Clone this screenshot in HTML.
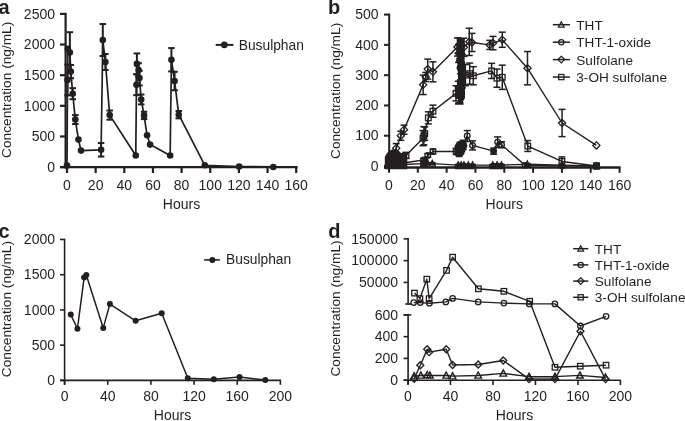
<!DOCTYPE html>
<html><head><meta charset="utf-8"><style>
html,body{margin:0;padding:0;background:#fff;}
svg{display:block;will-change:transform;}
text{font-family:"Liberation Sans", sans-serif;}
</style></head><body>
<svg width="685" height="421" viewBox="0 0 685 421">
<rect width="685" height="421" fill="#fff"/>
<text x="-1.5" y="13.6" text-anchor="start" font-size="20" font-weight="bold" fill="#231f20">a</text>
<line x1="65.6" y1="12.8" x2="65.6" y2="168.4" stroke="#231f20" stroke-width="2.2" stroke-linecap="butt"/>
<line x1="60" y1="167.1" x2="65.6" y2="167.1" stroke="#231f20" stroke-width="2.2" stroke-linecap="butt"/>
<text x="55" y="171.8" text-anchor="end" font-size="14" font-weight="normal" fill="#231f20">0</text>
<line x1="60" y1="136.46" x2="65.6" y2="136.46" stroke="#231f20" stroke-width="2.2" stroke-linecap="butt"/>
<text x="55" y="141.16" text-anchor="end" font-size="14" font-weight="normal" fill="#231f20">500</text>
<line x1="60" y1="105.82" x2="65.6" y2="105.82" stroke="#231f20" stroke-width="2.2" stroke-linecap="butt"/>
<text x="55" y="110.52" text-anchor="end" font-size="14" font-weight="normal" fill="#231f20">1000</text>
<line x1="60" y1="75.18" x2="65.6" y2="75.18" stroke="#231f20" stroke-width="2.2" stroke-linecap="butt"/>
<text x="55" y="79.88" text-anchor="end" font-size="14" font-weight="normal" fill="#231f20">1500</text>
<line x1="60" y1="44.54" x2="65.6" y2="44.54" stroke="#231f20" stroke-width="2.2" stroke-linecap="butt"/>
<text x="55" y="49.24" text-anchor="end" font-size="14" font-weight="normal" fill="#231f20">2000</text>
<line x1="60" y1="13.9" x2="65.6" y2="13.9" stroke="#231f20" stroke-width="2.2" stroke-linecap="butt"/>
<text x="55" y="18.6" text-anchor="end" font-size="14" font-weight="normal" fill="#231f20">2500</text>
<line x1="60" y1="167.1" x2="297.6" y2="167.1" stroke="#231f20" stroke-width="2.2" stroke-linecap="butt"/>
<line x1="67" y1="167.1" x2="67" y2="173" stroke="#231f20" stroke-width="2.2" stroke-linecap="butt"/>
<text x="67" y="189.6" text-anchor="middle" font-size="14" font-weight="normal" fill="#231f20">0</text>
<line x1="95.65" y1="167.1" x2="95.65" y2="173" stroke="#231f20" stroke-width="2.2" stroke-linecap="butt"/>
<text x="95.65" y="189.6" text-anchor="middle" font-size="14" font-weight="normal" fill="#231f20">20</text>
<line x1="124.3" y1="167.1" x2="124.3" y2="173" stroke="#231f20" stroke-width="2.2" stroke-linecap="butt"/>
<text x="124.3" y="189.6" text-anchor="middle" font-size="14" font-weight="normal" fill="#231f20">40</text>
<line x1="152.95" y1="167.1" x2="152.95" y2="173" stroke="#231f20" stroke-width="2.2" stroke-linecap="butt"/>
<text x="152.95" y="189.6" text-anchor="middle" font-size="14" font-weight="normal" fill="#231f20">60</text>
<line x1="181.6" y1="167.1" x2="181.6" y2="173" stroke="#231f20" stroke-width="2.2" stroke-linecap="butt"/>
<text x="181.6" y="189.6" text-anchor="middle" font-size="14" font-weight="normal" fill="#231f20">80</text>
<line x1="210.25" y1="167.1" x2="210.25" y2="173" stroke="#231f20" stroke-width="2.2" stroke-linecap="butt"/>
<text x="210.25" y="189.6" text-anchor="middle" font-size="14" font-weight="normal" fill="#231f20">100</text>
<line x1="238.9" y1="167.1" x2="238.9" y2="173" stroke="#231f20" stroke-width="2.2" stroke-linecap="butt"/>
<text x="238.9" y="189.6" text-anchor="middle" font-size="14" font-weight="normal" fill="#231f20">120</text>
<line x1="267.55" y1="167.1" x2="267.55" y2="173" stroke="#231f20" stroke-width="2.2" stroke-linecap="butt"/>
<text x="267.55" y="189.6" text-anchor="middle" font-size="14" font-weight="normal" fill="#231f20">140</text>
<line x1="296.2" y1="167.1" x2="296.2" y2="173" stroke="#231f20" stroke-width="2.2" stroke-linecap="butt"/>
<text x="296.2" y="189.6" text-anchor="middle" font-size="14" font-weight="normal" fill="#231f20">160</text>
<text x="181.5" y="209" text-anchor="middle" font-size="14" font-weight="normal" fill="#231f20">Hours</text>
<text x="11.4" y="89.8" text-anchor="middle" font-size="13.7" font-weight="normal" fill="#231f20" transform="rotate(-90 11.4 89.8)">Concentration (ng/mL)</text>
<line x1="67.5" y1="64.58" x2="67.5" y2="95.28" stroke="#231f20" stroke-width="2" stroke-linecap="butt"/>
<line x1="64.25" y1="64.58" x2="70.75" y2="64.58" stroke="#231f20" stroke-width="2" stroke-linecap="butt"/>
<line x1="64.25" y1="95.28" x2="70.75" y2="95.28" stroke="#231f20" stroke-width="2" stroke-linecap="butt"/>
<line x1="69.86" y1="32.22" x2="69.86" y2="72.74" stroke="#231f20" stroke-width="2" stroke-linecap="butt"/>
<line x1="66.61" y1="32.22" x2="73.11" y2="32.22" stroke="#231f20" stroke-width="2" stroke-linecap="butt"/>
<line x1="66.61" y1="72.74" x2="73.11" y2="72.74" stroke="#231f20" stroke-width="2" stroke-linecap="butt"/>
<line x1="70.8" y1="64.95" x2="70.8" y2="78.21" stroke="#231f20" stroke-width="2" stroke-linecap="butt"/>
<line x1="67.55" y1="64.95" x2="74.05" y2="64.95" stroke="#231f20" stroke-width="2" stroke-linecap="butt"/>
<line x1="67.55" y1="78.21" x2="74.05" y2="78.21" stroke="#231f20" stroke-width="2" stroke-linecap="butt"/>
<line x1="72.73" y1="88.16" x2="72.73" y2="99.21" stroke="#231f20" stroke-width="2" stroke-linecap="butt"/>
<line x1="69.48" y1="88.16" x2="75.98" y2="88.16" stroke="#231f20" stroke-width="2" stroke-linecap="butt"/>
<line x1="69.48" y1="99.21" x2="75.98" y2="99.21" stroke="#231f20" stroke-width="2" stroke-linecap="butt"/>
<line x1="75.31" y1="115.05" x2="75.31" y2="124.01" stroke="#231f20" stroke-width="2" stroke-linecap="butt"/>
<line x1="72.06" y1="115.05" x2="78.56" y2="115.05" stroke="#231f20" stroke-width="2" stroke-linecap="butt"/>
<line x1="72.06" y1="124.01" x2="78.56" y2="124.01" stroke="#231f20" stroke-width="2" stroke-linecap="butt"/>
<line x1="101.09" y1="143.05" x2="101.09" y2="156.56" stroke="#231f20" stroke-width="2" stroke-linecap="butt"/>
<line x1="97.84" y1="143.05" x2="104.34" y2="143.05" stroke="#231f20" stroke-width="2" stroke-linecap="butt"/>
<line x1="97.84" y1="156.56" x2="104.34" y2="156.56" stroke="#231f20" stroke-width="2" stroke-linecap="butt"/>
<line x1="102.81" y1="24.05" x2="102.81" y2="55.98" stroke="#231f20" stroke-width="2" stroke-linecap="butt"/>
<line x1="99.56" y1="24.05" x2="106.06" y2="24.05" stroke="#231f20" stroke-width="2" stroke-linecap="butt"/>
<line x1="99.56" y1="55.98" x2="106.06" y2="55.98" stroke="#231f20" stroke-width="2" stroke-linecap="butt"/>
<line x1="105.39" y1="53.96" x2="105.39" y2="69.92" stroke="#231f20" stroke-width="2" stroke-linecap="butt"/>
<line x1="102.14" y1="53.96" x2="108.64" y2="53.96" stroke="#231f20" stroke-width="2" stroke-linecap="butt"/>
<line x1="102.14" y1="69.92" x2="108.64" y2="69.92" stroke="#231f20" stroke-width="2" stroke-linecap="butt"/>
<line x1="109.69" y1="110.51" x2="109.69" y2="119.72" stroke="#231f20" stroke-width="2" stroke-linecap="butt"/>
<line x1="106.44" y1="110.51" x2="112.94" y2="110.51" stroke="#231f20" stroke-width="2" stroke-linecap="butt"/>
<line x1="106.44" y1="119.72" x2="112.94" y2="119.72" stroke="#231f20" stroke-width="2" stroke-linecap="butt"/>
<line x1="136.48" y1="74.28" x2="136.48" y2="95.16" stroke="#231f20" stroke-width="2" stroke-linecap="butt"/>
<line x1="133.23" y1="74.28" x2="139.73" y2="74.28" stroke="#231f20" stroke-width="2" stroke-linecap="butt"/>
<line x1="133.23" y1="95.16" x2="139.73" y2="95.16" stroke="#231f20" stroke-width="2" stroke-linecap="butt"/>
<line x1="136.91" y1="53.46" x2="136.91" y2="74.34" stroke="#231f20" stroke-width="2" stroke-linecap="butt"/>
<line x1="133.66" y1="53.46" x2="140.16" y2="53.46" stroke="#231f20" stroke-width="2" stroke-linecap="butt"/>
<line x1="133.66" y1="74.34" x2="140.16" y2="74.34" stroke="#231f20" stroke-width="2" stroke-linecap="butt"/>
<line x1="138.62" y1="63.23" x2="138.62" y2="76.74" stroke="#231f20" stroke-width="2" stroke-linecap="butt"/>
<line x1="135.38" y1="63.23" x2="141.88" y2="63.23" stroke="#231f20" stroke-width="2" stroke-linecap="butt"/>
<line x1="135.38" y1="76.74" x2="141.88" y2="76.74" stroke="#231f20" stroke-width="2" stroke-linecap="butt"/>
<line x1="139.48" y1="70.72" x2="139.48" y2="85.45" stroke="#231f20" stroke-width="2" stroke-linecap="butt"/>
<line x1="136.23" y1="70.72" x2="142.73" y2="70.72" stroke="#231f20" stroke-width="2" stroke-linecap="butt"/>
<line x1="136.23" y1="85.45" x2="142.73" y2="85.45" stroke="#231f20" stroke-width="2" stroke-linecap="butt"/>
<line x1="141.2" y1="94.54" x2="141.2" y2="104.37" stroke="#231f20" stroke-width="2" stroke-linecap="butt"/>
<line x1="137.95" y1="94.54" x2="144.45" y2="94.54" stroke="#231f20" stroke-width="2" stroke-linecap="butt"/>
<line x1="137.95" y1="104.37" x2="144.45" y2="104.37" stroke="#231f20" stroke-width="2" stroke-linecap="butt"/>
<line x1="144.07" y1="111.73" x2="144.07" y2="119.1" stroke="#231f20" stroke-width="2" stroke-linecap="butt"/>
<line x1="140.82" y1="111.73" x2="147.32" y2="111.73" stroke="#231f20" stroke-width="2" stroke-linecap="butt"/>
<line x1="140.82" y1="119.1" x2="147.32" y2="119.1" stroke="#231f20" stroke-width="2" stroke-linecap="butt"/>
<line x1="171.43" y1="48.06" x2="171.43" y2="71.39" stroke="#231f20" stroke-width="2" stroke-linecap="butt"/>
<line x1="168.18" y1="48.06" x2="174.68" y2="48.06" stroke="#231f20" stroke-width="2" stroke-linecap="butt"/>
<line x1="168.18" y1="71.39" x2="174.68" y2="71.39" stroke="#231f20" stroke-width="2" stroke-linecap="butt"/>
<line x1="174.58" y1="71.82" x2="174.58" y2="90.24" stroke="#231f20" stroke-width="2" stroke-linecap="butt"/>
<line x1="171.33" y1="71.82" x2="177.83" y2="71.82" stroke="#231f20" stroke-width="2" stroke-linecap="butt"/>
<line x1="171.33" y1="90.24" x2="177.83" y2="90.24" stroke="#231f20" stroke-width="2" stroke-linecap="butt"/>
<line x1="178.74" y1="111" x2="178.74" y2="118.36" stroke="#231f20" stroke-width="2" stroke-linecap="butt"/>
<line x1="175.49" y1="111" x2="181.99" y2="111" stroke="#231f20" stroke-width="2" stroke-linecap="butt"/>
<line x1="175.49" y1="118.36" x2="181.99" y2="118.36" stroke="#231f20" stroke-width="2" stroke-linecap="butt"/>
<polyline points="67,165.46 67.5,79.93 67.86,48.8 69.86,52.48 70.8,71.58 72.73,93.68 75.31,119.53 78.46,139.61 81.04,150.6 101.09,149.8 102.81,40.02 105.39,61.94 109.69,115.11 135.76,155.51 136.48,84.72 136.91,63.9 138.62,69.98 139.48,78.09 141.2,99.45 144.07,115.42 147.08,135.31 150.09,144.58 170.14,155.51 171.43,59.73 174.58,81.03 178.74,114.68 204.81,165.27 239.19,166.5 273.28,166.93" fill="none" stroke="#231f20" stroke-width="1.7" stroke-linejoin="round"/>
<circle cx="67" cy="165.46" r="3.3" fill="#231f20"/>
<circle cx="67.5" cy="79.93" r="3.3" fill="#231f20"/>
<circle cx="67.86" cy="48.8" r="3.3" fill="#231f20"/>
<circle cx="69.86" cy="52.48" r="3.3" fill="#231f20"/>
<circle cx="70.8" cy="71.58" r="3.3" fill="#231f20"/>
<circle cx="72.73" cy="93.68" r="3.3" fill="#231f20"/>
<circle cx="75.31" cy="119.53" r="3.3" fill="#231f20"/>
<circle cx="78.46" cy="139.61" r="3.3" fill="#231f20"/>
<circle cx="81.04" cy="150.6" r="3.3" fill="#231f20"/>
<circle cx="101.09" cy="149.8" r="3.3" fill="#231f20"/>
<circle cx="102.81" cy="40.02" r="3.3" fill="#231f20"/>
<circle cx="105.39" cy="61.94" r="3.3" fill="#231f20"/>
<circle cx="109.69" cy="115.11" r="3.3" fill="#231f20"/>
<circle cx="135.76" cy="155.51" r="3.3" fill="#231f20"/>
<circle cx="136.48" cy="84.72" r="3.3" fill="#231f20"/>
<circle cx="136.91" cy="63.9" r="3.3" fill="#231f20"/>
<circle cx="138.62" cy="69.98" r="3.3" fill="#231f20"/>
<circle cx="139.48" cy="78.09" r="3.3" fill="#231f20"/>
<circle cx="141.2" cy="99.45" r="3.3" fill="#231f20"/>
<circle cx="144.07" cy="115.42" r="3.3" fill="#231f20"/>
<circle cx="147.08" cy="135.31" r="3.3" fill="#231f20"/>
<circle cx="150.09" cy="144.58" r="3.3" fill="#231f20"/>
<circle cx="170.14" cy="155.51" r="3.3" fill="#231f20"/>
<circle cx="171.43" cy="59.73" r="3.3" fill="#231f20"/>
<circle cx="174.58" cy="81.03" r="3.3" fill="#231f20"/>
<circle cx="178.74" cy="114.68" r="3.3" fill="#231f20"/>
<circle cx="204.81" cy="165.27" r="3.3" fill="#231f20"/>
<circle cx="239.19" cy="166.5" r="3.3" fill="#231f20"/>
<circle cx="273.28" cy="166.93" r="3.3" fill="#231f20"/>
<line x1="215.7" y1="44.9" x2="233.4" y2="44.9" stroke="#231f20" stroke-width="2" stroke-linecap="butt"/>
<circle cx="224.3" cy="44.9" r="3.3" fill="#231f20"/>
<text x="238.7" y="49.9" text-anchor="start" font-size="13.8" font-weight="normal" fill="#231f20">Busulphan</text>
<text x="328" y="13.6" text-anchor="start" font-size="20" font-weight="bold" fill="#231f20">b</text>
<line x1="389.2" y1="13.6" x2="389.2" y2="168.7" stroke="#231f20" stroke-width="2" stroke-linecap="butt"/>
<line x1="384" y1="166" x2="389.2" y2="166" stroke="#231f20" stroke-width="2" stroke-linecap="butt"/>
<text x="378.5" y="170.7" text-anchor="end" font-size="14" font-weight="normal" fill="#231f20">0</text>
<line x1="384" y1="135.72" x2="389.2" y2="135.72" stroke="#231f20" stroke-width="2" stroke-linecap="butt"/>
<text x="378.5" y="140.42" text-anchor="end" font-size="14" font-weight="normal" fill="#231f20">100</text>
<line x1="384" y1="105.44" x2="389.2" y2="105.44" stroke="#231f20" stroke-width="2" stroke-linecap="butt"/>
<text x="378.5" y="110.14" text-anchor="end" font-size="14" font-weight="normal" fill="#231f20">200</text>
<line x1="384" y1="75.16" x2="389.2" y2="75.16" stroke="#231f20" stroke-width="2" stroke-linecap="butt"/>
<text x="378.5" y="79.86" text-anchor="end" font-size="14" font-weight="normal" fill="#231f20">300</text>
<line x1="384" y1="44.88" x2="389.2" y2="44.88" stroke="#231f20" stroke-width="2" stroke-linecap="butt"/>
<text x="378.5" y="49.58" text-anchor="end" font-size="14" font-weight="normal" fill="#231f20">400</text>
<line x1="384" y1="14.6" x2="389.2" y2="14.6" stroke="#231f20" stroke-width="2" stroke-linecap="butt"/>
<text x="378.5" y="19.3" text-anchor="end" font-size="14" font-weight="normal" fill="#231f20">500</text>
<line x1="384" y1="167.5" x2="620.6" y2="167.5" stroke="#231f20" stroke-width="2.4" stroke-linecap="butt"/>
<line x1="389" y1="167.5" x2="389" y2="172.8" stroke="#231f20" stroke-width="2" stroke-linecap="butt"/>
<text x="389" y="189.6" text-anchor="middle" font-size="14" font-weight="normal" fill="#231f20">0</text>
<line x1="417.82" y1="167.5" x2="417.82" y2="172.8" stroke="#231f20" stroke-width="2" stroke-linecap="butt"/>
<text x="417.82" y="189.6" text-anchor="middle" font-size="14" font-weight="normal" fill="#231f20">20</text>
<line x1="446.64" y1="167.5" x2="446.64" y2="172.8" stroke="#231f20" stroke-width="2" stroke-linecap="butt"/>
<text x="446.64" y="189.6" text-anchor="middle" font-size="14" font-weight="normal" fill="#231f20">40</text>
<line x1="475.46" y1="167.5" x2="475.46" y2="172.8" stroke="#231f20" stroke-width="2" stroke-linecap="butt"/>
<text x="475.46" y="189.6" text-anchor="middle" font-size="14" font-weight="normal" fill="#231f20">60</text>
<line x1="504.28" y1="167.5" x2="504.28" y2="172.8" stroke="#231f20" stroke-width="2" stroke-linecap="butt"/>
<text x="504.28" y="189.6" text-anchor="middle" font-size="14" font-weight="normal" fill="#231f20">80</text>
<line x1="533.1" y1="167.5" x2="533.1" y2="172.8" stroke="#231f20" stroke-width="2" stroke-linecap="butt"/>
<text x="533.1" y="189.6" text-anchor="middle" font-size="14" font-weight="normal" fill="#231f20">100</text>
<line x1="561.92" y1="167.5" x2="561.92" y2="172.8" stroke="#231f20" stroke-width="2" stroke-linecap="butt"/>
<text x="561.92" y="189.6" text-anchor="middle" font-size="14" font-weight="normal" fill="#231f20">120</text>
<line x1="590.74" y1="167.5" x2="590.74" y2="172.8" stroke="#231f20" stroke-width="2" stroke-linecap="butt"/>
<text x="590.74" y="189.6" text-anchor="middle" font-size="14" font-weight="normal" fill="#231f20">140</text>
<line x1="619.56" y1="167.5" x2="619.56" y2="172.8" stroke="#231f20" stroke-width="2" stroke-linecap="butt"/>
<text x="619.56" y="189.6" text-anchor="middle" font-size="14" font-weight="normal" fill="#231f20">160</text>
<text x="504.3" y="209" text-anchor="middle" font-size="14" font-weight="normal" fill="#231f20">Hours</text>
<text x="340" y="90.9" text-anchor="middle" font-size="13.7" font-weight="normal" fill="#231f20" transform="rotate(-90 340 90.9)">Concentration (ng/mL)</text>
<line x1="391.88" y1="163.58" x2="391.88" y2="165.39" stroke="#231f20" stroke-width="1.5" stroke-linecap="butt"/>
<line x1="388.38" y1="163.58" x2="395.38" y2="163.58" stroke="#231f20" stroke-width="1.5" stroke-linecap="butt"/>
<line x1="388.38" y1="165.39" x2="395.38" y2="165.39" stroke="#231f20" stroke-width="1.5" stroke-linecap="butt"/>
<line x1="396.2" y1="162.67" x2="396.2" y2="164.49" stroke="#231f20" stroke-width="1.5" stroke-linecap="butt"/>
<line x1="392.7" y1="162.67" x2="399.7" y2="162.67" stroke="#231f20" stroke-width="1.5" stroke-linecap="butt"/>
<line x1="392.7" y1="164.49" x2="399.7" y2="164.49" stroke="#231f20" stroke-width="1.5" stroke-linecap="butt"/>
<line x1="400.53" y1="163.27" x2="400.53" y2="165.09" stroke="#231f20" stroke-width="1.5" stroke-linecap="butt"/>
<line x1="397.03" y1="163.27" x2="404.03" y2="163.27" stroke="#231f20" stroke-width="1.5" stroke-linecap="butt"/>
<line x1="397.03" y1="165.09" x2="404.03" y2="165.09" stroke="#231f20" stroke-width="1.5" stroke-linecap="butt"/>
<line x1="403.41" y1="163.58" x2="403.41" y2="165.39" stroke="#231f20" stroke-width="1.5" stroke-linecap="butt"/>
<line x1="399.91" y1="163.58" x2="406.91" y2="163.58" stroke="#231f20" stroke-width="1.5" stroke-linecap="butt"/>
<line x1="399.91" y1="165.39" x2="406.91" y2="165.39" stroke="#231f20" stroke-width="1.5" stroke-linecap="butt"/>
<line x1="423.58" y1="162.67" x2="423.58" y2="164.49" stroke="#231f20" stroke-width="1.5" stroke-linecap="butt"/>
<line x1="420.08" y1="162.67" x2="427.08" y2="162.67" stroke="#231f20" stroke-width="1.5" stroke-linecap="butt"/>
<line x1="420.08" y1="164.49" x2="427.08" y2="164.49" stroke="#231f20" stroke-width="1.5" stroke-linecap="butt"/>
<line x1="432.23" y1="162.67" x2="432.23" y2="164.49" stroke="#231f20" stroke-width="1.5" stroke-linecap="butt"/>
<line x1="428.73" y1="162.67" x2="435.73" y2="162.67" stroke="#231f20" stroke-width="1.5" stroke-linecap="butt"/>
<line x1="428.73" y1="164.49" x2="435.73" y2="164.49" stroke="#231f20" stroke-width="1.5" stroke-linecap="butt"/>
<line x1="458.17" y1="164.49" x2="458.17" y2="165.7" stroke="#231f20" stroke-width="1.5" stroke-linecap="butt"/>
<line x1="454.67" y1="164.49" x2="461.67" y2="164.49" stroke="#231f20" stroke-width="1.5" stroke-linecap="butt"/>
<line x1="454.67" y1="165.7" x2="461.67" y2="165.7" stroke="#231f20" stroke-width="1.5" stroke-linecap="butt"/>
<line x1="461.05" y1="164.49" x2="461.05" y2="165.7" stroke="#231f20" stroke-width="1.5" stroke-linecap="butt"/>
<line x1="457.55" y1="164.49" x2="464.55" y2="164.49" stroke="#231f20" stroke-width="1.5" stroke-linecap="butt"/>
<line x1="457.55" y1="165.7" x2="464.55" y2="165.7" stroke="#231f20" stroke-width="1.5" stroke-linecap="butt"/>
<line x1="463.93" y1="164.49" x2="463.93" y2="165.7" stroke="#231f20" stroke-width="1.5" stroke-linecap="butt"/>
<line x1="460.43" y1="164.49" x2="467.43" y2="164.49" stroke="#231f20" stroke-width="1.5" stroke-linecap="butt"/>
<line x1="460.43" y1="165.7" x2="467.43" y2="165.7" stroke="#231f20" stroke-width="1.5" stroke-linecap="butt"/>
<line x1="468.25" y1="164.49" x2="468.25" y2="165.7" stroke="#231f20" stroke-width="1.5" stroke-linecap="butt"/>
<line x1="464.75" y1="164.49" x2="471.75" y2="164.49" stroke="#231f20" stroke-width="1.5" stroke-linecap="butt"/>
<line x1="464.75" y1="165.7" x2="471.75" y2="165.7" stroke="#231f20" stroke-width="1.5" stroke-linecap="butt"/>
<line x1="472.58" y1="164.49" x2="472.58" y2="165.7" stroke="#231f20" stroke-width="1.5" stroke-linecap="butt"/>
<line x1="469.08" y1="164.49" x2="476.08" y2="164.49" stroke="#231f20" stroke-width="1.5" stroke-linecap="butt"/>
<line x1="469.08" y1="165.7" x2="476.08" y2="165.7" stroke="#231f20" stroke-width="1.5" stroke-linecap="butt"/>
<line x1="492.75" y1="164.49" x2="492.75" y2="165.7" stroke="#231f20" stroke-width="1.5" stroke-linecap="butt"/>
<line x1="489.25" y1="164.49" x2="496.25" y2="164.49" stroke="#231f20" stroke-width="1.5" stroke-linecap="butt"/>
<line x1="489.25" y1="165.7" x2="496.25" y2="165.7" stroke="#231f20" stroke-width="1.5" stroke-linecap="butt"/>
<line x1="497.07" y1="164.49" x2="497.07" y2="165.7" stroke="#231f20" stroke-width="1.5" stroke-linecap="butt"/>
<line x1="493.57" y1="164.49" x2="500.57" y2="164.49" stroke="#231f20" stroke-width="1.5" stroke-linecap="butt"/>
<line x1="493.57" y1="165.7" x2="500.57" y2="165.7" stroke="#231f20" stroke-width="1.5" stroke-linecap="butt"/>
<line x1="501.4" y1="164.49" x2="501.4" y2="165.7" stroke="#231f20" stroke-width="1.5" stroke-linecap="butt"/>
<line x1="497.9" y1="164.49" x2="504.9" y2="164.49" stroke="#231f20" stroke-width="1.5" stroke-linecap="butt"/>
<line x1="497.9" y1="165.7" x2="504.9" y2="165.7" stroke="#231f20" stroke-width="1.5" stroke-linecap="butt"/>
<line x1="527.34" y1="163.58" x2="527.34" y2="164.79" stroke="#231f20" stroke-width="1.5" stroke-linecap="butt"/>
<line x1="523.84" y1="163.58" x2="530.84" y2="163.58" stroke="#231f20" stroke-width="1.5" stroke-linecap="butt"/>
<line x1="523.84" y1="164.79" x2="530.84" y2="164.79" stroke="#231f20" stroke-width="1.5" stroke-linecap="butt"/>
<polyline points="389,165.39 391.88,164.49 396.2,163.58 400.53,164.18 403.41,164.49 423.58,163.58 432.23,163.58 458.17,165.09 461.05,165.09 463.93,165.09 468.25,165.09 472.58,165.09 492.75,165.09 497.07,165.09 501.4,165.09 527.34,164.18 561.92,165.09 596.5,166" fill="none" stroke="#231f20" stroke-width="1.4" stroke-linejoin="round"/>
<line x1="391.88" y1="162.06" x2="391.88" y2="165.09" stroke="#231f20" stroke-width="1.5" stroke-linecap="butt"/>
<line x1="388.38" y1="162.06" x2="395.38" y2="162.06" stroke="#231f20" stroke-width="1.5" stroke-linecap="butt"/>
<line x1="388.38" y1="165.09" x2="395.38" y2="165.09" stroke="#231f20" stroke-width="1.5" stroke-linecap="butt"/>
<line x1="396.2" y1="161.46" x2="396.2" y2="164.49" stroke="#231f20" stroke-width="1.5" stroke-linecap="butt"/>
<line x1="392.7" y1="161.46" x2="399.7" y2="161.46" stroke="#231f20" stroke-width="1.5" stroke-linecap="butt"/>
<line x1="392.7" y1="164.49" x2="399.7" y2="164.49" stroke="#231f20" stroke-width="1.5" stroke-linecap="butt"/>
<line x1="400.53" y1="160.85" x2="400.53" y2="163.88" stroke="#231f20" stroke-width="1.5" stroke-linecap="butt"/>
<line x1="397.03" y1="160.85" x2="404.03" y2="160.85" stroke="#231f20" stroke-width="1.5" stroke-linecap="butt"/>
<line x1="397.03" y1="163.88" x2="404.03" y2="163.88" stroke="#231f20" stroke-width="1.5" stroke-linecap="butt"/>
<line x1="403.41" y1="161.46" x2="403.41" y2="164.49" stroke="#231f20" stroke-width="1.5" stroke-linecap="butt"/>
<line x1="399.91" y1="161.46" x2="406.91" y2="161.46" stroke="#231f20" stroke-width="1.5" stroke-linecap="butt"/>
<line x1="399.91" y1="164.49" x2="406.91" y2="164.49" stroke="#231f20" stroke-width="1.5" stroke-linecap="butt"/>
<line x1="423.58" y1="158.43" x2="423.58" y2="161.46" stroke="#231f20" stroke-width="1.5" stroke-linecap="butt"/>
<line x1="420.08" y1="158.43" x2="427.08" y2="158.43" stroke="#231f20" stroke-width="1.5" stroke-linecap="butt"/>
<line x1="420.08" y1="161.46" x2="427.08" y2="161.46" stroke="#231f20" stroke-width="1.5" stroke-linecap="butt"/>
<line x1="427.76" y1="153.59" x2="427.76" y2="157.22" stroke="#231f20" stroke-width="1.5" stroke-linecap="butt"/>
<line x1="424.26" y1="153.59" x2="431.26" y2="153.59" stroke="#231f20" stroke-width="1.5" stroke-linecap="butt"/>
<line x1="424.26" y1="157.22" x2="431.26" y2="157.22" stroke="#231f20" stroke-width="1.5" stroke-linecap="butt"/>
<line x1="432.95" y1="149.04" x2="432.95" y2="153.89" stroke="#231f20" stroke-width="1.5" stroke-linecap="butt"/>
<line x1="429.45" y1="149.04" x2="436.45" y2="149.04" stroke="#231f20" stroke-width="1.5" stroke-linecap="butt"/>
<line x1="429.45" y1="153.89" x2="436.45" y2="153.89" stroke="#231f20" stroke-width="1.5" stroke-linecap="butt"/>
<line x1="456.01" y1="148.44" x2="456.01" y2="154.49" stroke="#231f20" stroke-width="1.5" stroke-linecap="butt"/>
<line x1="452.51" y1="148.44" x2="459.51" y2="148.44" stroke="#231f20" stroke-width="1.5" stroke-linecap="butt"/>
<line x1="452.51" y1="154.49" x2="459.51" y2="154.49" stroke="#231f20" stroke-width="1.5" stroke-linecap="butt"/>
<line x1="458.89" y1="149.35" x2="458.89" y2="155.4" stroke="#231f20" stroke-width="1.5" stroke-linecap="butt"/>
<line x1="455.39" y1="149.35" x2="462.39" y2="149.35" stroke="#231f20" stroke-width="1.5" stroke-linecap="butt"/>
<line x1="455.39" y1="155.4" x2="462.39" y2="155.4" stroke="#231f20" stroke-width="1.5" stroke-linecap="butt"/>
<line x1="460.76" y1="144.8" x2="460.76" y2="153.89" stroke="#231f20" stroke-width="1.5" stroke-linecap="butt"/>
<line x1="457.26" y1="144.8" x2="464.26" y2="144.8" stroke="#231f20" stroke-width="1.5" stroke-linecap="butt"/>
<line x1="457.26" y1="153.89" x2="464.26" y2="153.89" stroke="#231f20" stroke-width="1.5" stroke-linecap="butt"/>
<line x1="463.21" y1="140.26" x2="463.21" y2="149.35" stroke="#231f20" stroke-width="1.5" stroke-linecap="butt"/>
<line x1="459.71" y1="140.26" x2="466.71" y2="140.26" stroke="#231f20" stroke-width="1.5" stroke-linecap="butt"/>
<line x1="459.71" y1="149.35" x2="466.71" y2="149.35" stroke="#231f20" stroke-width="1.5" stroke-linecap="butt"/>
<line x1="467.25" y1="130.57" x2="467.25" y2="141.47" stroke="#231f20" stroke-width="1.5" stroke-linecap="butt"/>
<line x1="463.75" y1="130.57" x2="470.75" y2="130.57" stroke="#231f20" stroke-width="1.5" stroke-linecap="butt"/>
<line x1="463.75" y1="141.47" x2="470.75" y2="141.47" stroke="#231f20" stroke-width="1.5" stroke-linecap="butt"/>
<line x1="472.58" y1="140.87" x2="472.58" y2="149.95" stroke="#231f20" stroke-width="1.5" stroke-linecap="butt"/>
<line x1="469.08" y1="140.87" x2="476.08" y2="140.87" stroke="#231f20" stroke-width="1.5" stroke-linecap="butt"/>
<line x1="469.08" y1="149.95" x2="476.08" y2="149.95" stroke="#231f20" stroke-width="1.5" stroke-linecap="butt"/>
<line x1="493.62" y1="148.13" x2="493.62" y2="154.19" stroke="#231f20" stroke-width="1.5" stroke-linecap="butt"/>
<line x1="490.12" y1="148.13" x2="497.12" y2="148.13" stroke="#231f20" stroke-width="1.5" stroke-linecap="butt"/>
<line x1="490.12" y1="154.19" x2="497.12" y2="154.19" stroke="#231f20" stroke-width="1.5" stroke-linecap="butt"/>
<line x1="497.65" y1="136.93" x2="497.65" y2="147.23" stroke="#231f20" stroke-width="1.5" stroke-linecap="butt"/>
<line x1="494.15" y1="136.93" x2="501.15" y2="136.93" stroke="#231f20" stroke-width="1.5" stroke-linecap="butt"/>
<line x1="494.15" y1="147.23" x2="501.15" y2="147.23" stroke="#231f20" stroke-width="1.5" stroke-linecap="butt"/>
<line x1="501.54" y1="141.78" x2="501.54" y2="147.83" stroke="#231f20" stroke-width="1.5" stroke-linecap="butt"/>
<line x1="498.04" y1="141.78" x2="505.04" y2="141.78" stroke="#231f20" stroke-width="1.5" stroke-linecap="butt"/>
<line x1="498.04" y1="147.83" x2="505.04" y2="147.83" stroke="#231f20" stroke-width="1.5" stroke-linecap="butt"/>
<polyline points="389,165.39 391.88,163.58 396.2,162.97 400.53,162.37 403.41,162.97 423.58,159.94 427.76,155.4 432.95,151.47 456.01,151.47 458.89,152.37 460.76,149.35 463.21,144.8 467.25,136.02 472.58,145.41 493.62,151.16 497.65,142.08 501.54,144.8 525.17,165.39 561.92,165.7 596.5,166" fill="none" stroke="#231f20" stroke-width="1.4" stroke-linejoin="round"/>
<line x1="391.88" y1="162.06" x2="391.88" y2="165.09" stroke="#231f20" stroke-width="1.5" stroke-linecap="butt"/>
<line x1="388.38" y1="162.06" x2="395.38" y2="162.06" stroke="#231f20" stroke-width="1.5" stroke-linecap="butt"/>
<line x1="388.38" y1="165.09" x2="395.38" y2="165.09" stroke="#231f20" stroke-width="1.5" stroke-linecap="butt"/>
<line x1="396.2" y1="158.13" x2="396.2" y2="162.97" stroke="#231f20" stroke-width="1.5" stroke-linecap="butt"/>
<line x1="392.7" y1="158.13" x2="399.7" y2="158.13" stroke="#231f20" stroke-width="1.5" stroke-linecap="butt"/>
<line x1="392.7" y1="162.97" x2="399.7" y2="162.97" stroke="#231f20" stroke-width="1.5" stroke-linecap="butt"/>
<line x1="400.53" y1="154.49" x2="400.53" y2="160.55" stroke="#231f20" stroke-width="1.5" stroke-linecap="butt"/>
<line x1="397.03" y1="154.49" x2="404.03" y2="154.49" stroke="#231f20" stroke-width="1.5" stroke-linecap="butt"/>
<line x1="397.03" y1="160.55" x2="404.03" y2="160.55" stroke="#231f20" stroke-width="1.5" stroke-linecap="butt"/>
<line x1="403.41" y1="153.89" x2="403.41" y2="159.94" stroke="#231f20" stroke-width="1.5" stroke-linecap="butt"/>
<line x1="399.91" y1="153.89" x2="406.91" y2="153.89" stroke="#231f20" stroke-width="1.5" stroke-linecap="butt"/>
<line x1="399.91" y1="159.94" x2="406.91" y2="159.94" stroke="#231f20" stroke-width="1.5" stroke-linecap="butt"/>
<line x1="406" y1="152.37" x2="406" y2="158.43" stroke="#231f20" stroke-width="1.5" stroke-linecap="butt"/>
<line x1="402.5" y1="152.37" x2="409.5" y2="152.37" stroke="#231f20" stroke-width="1.5" stroke-linecap="butt"/>
<line x1="402.5" y1="158.43" x2="409.5" y2="158.43" stroke="#231f20" stroke-width="1.5" stroke-linecap="butt"/>
<line x1="423.01" y1="130.57" x2="423.01" y2="145.71" stroke="#231f20" stroke-width="1.5" stroke-linecap="butt"/>
<line x1="419.51" y1="130.57" x2="426.51" y2="130.57" stroke="#231f20" stroke-width="1.5" stroke-linecap="butt"/>
<line x1="419.51" y1="145.71" x2="426.51" y2="145.71" stroke="#231f20" stroke-width="1.5" stroke-linecap="butt"/>
<line x1="423.87" y1="126.64" x2="423.87" y2="144.8" stroke="#231f20" stroke-width="1.5" stroke-linecap="butt"/>
<line x1="420.37" y1="126.64" x2="427.37" y2="126.64" stroke="#231f20" stroke-width="1.5" stroke-linecap="butt"/>
<line x1="420.37" y1="144.8" x2="427.37" y2="144.8" stroke="#231f20" stroke-width="1.5" stroke-linecap="butt"/>
<line x1="424.74" y1="126.94" x2="424.74" y2="140.26" stroke="#231f20" stroke-width="1.5" stroke-linecap="butt"/>
<line x1="421.24" y1="126.94" x2="428.24" y2="126.94" stroke="#231f20" stroke-width="1.5" stroke-linecap="butt"/>
<line x1="421.24" y1="140.26" x2="428.24" y2="140.26" stroke="#231f20" stroke-width="1.5" stroke-linecap="butt"/>
<line x1="428.34" y1="111.8" x2="428.34" y2="123.91" stroke="#231f20" stroke-width="1.5" stroke-linecap="butt"/>
<line x1="424.84" y1="111.8" x2="431.84" y2="111.8" stroke="#231f20" stroke-width="1.5" stroke-linecap="butt"/>
<line x1="424.84" y1="123.91" x2="431.84" y2="123.91" stroke="#231f20" stroke-width="1.5" stroke-linecap="butt"/>
<line x1="432.95" y1="105.14" x2="432.95" y2="117.25" stroke="#231f20" stroke-width="1.5" stroke-linecap="butt"/>
<line x1="429.45" y1="105.14" x2="436.45" y2="105.14" stroke="#231f20" stroke-width="1.5" stroke-linecap="butt"/>
<line x1="429.45" y1="117.25" x2="436.45" y2="117.25" stroke="#231f20" stroke-width="1.5" stroke-linecap="butt"/>
<line x1="456.01" y1="85.76" x2="456.01" y2="100.9" stroke="#231f20" stroke-width="1.5" stroke-linecap="butt"/>
<line x1="452.51" y1="85.76" x2="459.51" y2="85.76" stroke="#231f20" stroke-width="1.5" stroke-linecap="butt"/>
<line x1="452.51" y1="100.9" x2="459.51" y2="100.9" stroke="#231f20" stroke-width="1.5" stroke-linecap="butt"/>
<line x1="458.17" y1="81.22" x2="458.17" y2="96.36" stroke="#231f20" stroke-width="1.5" stroke-linecap="butt"/>
<line x1="454.67" y1="81.22" x2="461.67" y2="81.22" stroke="#231f20" stroke-width="1.5" stroke-linecap="butt"/>
<line x1="454.67" y1="96.36" x2="461.67" y2="96.36" stroke="#231f20" stroke-width="1.5" stroke-linecap="butt"/>
<line x1="460.33" y1="73.65" x2="460.33" y2="91.81" stroke="#231f20" stroke-width="1.5" stroke-linecap="butt"/>
<line x1="456.83" y1="73.65" x2="463.83" y2="73.65" stroke="#231f20" stroke-width="1.5" stroke-linecap="butt"/>
<line x1="456.83" y1="91.81" x2="463.83" y2="91.81" stroke="#231f20" stroke-width="1.5" stroke-linecap="butt"/>
<line x1="462.49" y1="69.71" x2="462.49" y2="87.88" stroke="#231f20" stroke-width="1.5" stroke-linecap="butt"/>
<line x1="458.99" y1="69.71" x2="465.99" y2="69.71" stroke="#231f20" stroke-width="1.5" stroke-linecap="butt"/>
<line x1="458.99" y1="87.88" x2="465.99" y2="87.88" stroke="#231f20" stroke-width="1.5" stroke-linecap="butt"/>
<line x1="465.37" y1="64.56" x2="465.37" y2="85.76" stroke="#231f20" stroke-width="1.5" stroke-linecap="butt"/>
<line x1="461.87" y1="64.56" x2="468.87" y2="64.56" stroke="#231f20" stroke-width="1.5" stroke-linecap="butt"/>
<line x1="461.87" y1="85.76" x2="468.87" y2="85.76" stroke="#231f20" stroke-width="1.5" stroke-linecap="butt"/>
<line x1="469.7" y1="63.05" x2="469.7" y2="84.24" stroke="#231f20" stroke-width="1.5" stroke-linecap="butt"/>
<line x1="466.2" y1="63.05" x2="473.2" y2="63.05" stroke="#231f20" stroke-width="1.5" stroke-linecap="butt"/>
<line x1="466.2" y1="84.24" x2="473.2" y2="84.24" stroke="#231f20" stroke-width="1.5" stroke-linecap="butt"/>
<line x1="473.3" y1="66.68" x2="473.3" y2="84.85" stroke="#231f20" stroke-width="1.5" stroke-linecap="butt"/>
<line x1="469.8" y1="66.68" x2="476.8" y2="66.68" stroke="#231f20" stroke-width="1.5" stroke-linecap="butt"/>
<line x1="469.8" y1="84.85" x2="476.8" y2="84.85" stroke="#231f20" stroke-width="1.5" stroke-linecap="butt"/>
<line x1="491.6" y1="63.35" x2="491.6" y2="78.49" stroke="#231f20" stroke-width="1.5" stroke-linecap="butt"/>
<line x1="488.1" y1="63.35" x2="495.1" y2="63.35" stroke="#231f20" stroke-width="1.5" stroke-linecap="butt"/>
<line x1="488.1" y1="78.49" x2="495.1" y2="78.49" stroke="#231f20" stroke-width="1.5" stroke-linecap="butt"/>
<line x1="496.93" y1="69.1" x2="496.93" y2="87.27" stroke="#231f20" stroke-width="1.5" stroke-linecap="butt"/>
<line x1="493.43" y1="69.1" x2="500.43" y2="69.1" stroke="#231f20" stroke-width="1.5" stroke-linecap="butt"/>
<line x1="493.43" y1="87.27" x2="500.43" y2="87.27" stroke="#231f20" stroke-width="1.5" stroke-linecap="butt"/>
<line x1="502.26" y1="65.17" x2="502.26" y2="89.39" stroke="#231f20" stroke-width="1.5" stroke-linecap="butt"/>
<line x1="498.76" y1="65.17" x2="505.76" y2="65.17" stroke="#231f20" stroke-width="1.5" stroke-linecap="butt"/>
<line x1="498.76" y1="89.39" x2="505.76" y2="89.39" stroke="#231f20" stroke-width="1.5" stroke-linecap="butt"/>
<line x1="527.77" y1="140.56" x2="527.77" y2="151.47" stroke="#231f20" stroke-width="1.5" stroke-linecap="butt"/>
<line x1="524.27" y1="140.56" x2="531.27" y2="140.56" stroke="#231f20" stroke-width="1.5" stroke-linecap="butt"/>
<line x1="524.27" y1="151.47" x2="531.27" y2="151.47" stroke="#231f20" stroke-width="1.5" stroke-linecap="butt"/>
<line x1="561.92" y1="156.92" x2="561.92" y2="166" stroke="#231f20" stroke-width="1.5" stroke-linecap="butt"/>
<line x1="558.42" y1="156.92" x2="565.42" y2="156.92" stroke="#231f20" stroke-width="1.5" stroke-linecap="butt"/>
<line x1="558.42" y1="166" x2="565.42" y2="166" stroke="#231f20" stroke-width="1.5" stroke-linecap="butt"/>
<polyline points="389,165.39 391.88,163.58 396.2,160.55 400.53,157.52 403.41,156.92 406,155.4 423.01,138.14 423.87,135.72 424.74,133.6 428.34,117.85 432.95,111.19 456.01,93.33 458.17,88.79 460.33,82.73 462.49,78.79 465.37,75.16 469.7,73.65 473.3,75.77 491.6,70.92 496.93,78.19 502.26,77.28 527.77,146.02 561.92,161.46 596.5,166" fill="none" stroke="#231f20" stroke-width="1.4" stroke-linejoin="round"/>
<line x1="391.88" y1="156.31" x2="391.88" y2="162.37" stroke="#231f20" stroke-width="1.5" stroke-linecap="butt"/>
<line x1="388.38" y1="156.31" x2="395.38" y2="156.31" stroke="#231f20" stroke-width="1.5" stroke-linecap="butt"/>
<line x1="388.38" y1="162.37" x2="395.38" y2="162.37" stroke="#231f20" stroke-width="1.5" stroke-linecap="butt"/>
<line x1="396.2" y1="143.59" x2="396.2" y2="152.68" stroke="#231f20" stroke-width="1.5" stroke-linecap="butt"/>
<line x1="392.7" y1="143.59" x2="399.7" y2="143.59" stroke="#231f20" stroke-width="1.5" stroke-linecap="butt"/>
<line x1="392.7" y1="152.68" x2="399.7" y2="152.68" stroke="#231f20" stroke-width="1.5" stroke-linecap="butt"/>
<line x1="400.82" y1="131.18" x2="400.82" y2="140.26" stroke="#231f20" stroke-width="1.5" stroke-linecap="butt"/>
<line x1="397.32" y1="131.18" x2="404.32" y2="131.18" stroke="#231f20" stroke-width="1.5" stroke-linecap="butt"/>
<line x1="397.32" y1="140.26" x2="404.32" y2="140.26" stroke="#231f20" stroke-width="1.5" stroke-linecap="butt"/>
<line x1="403.99" y1="125.12" x2="403.99" y2="134.21" stroke="#231f20" stroke-width="1.5" stroke-linecap="butt"/>
<line x1="400.49" y1="125.12" x2="407.49" y2="125.12" stroke="#231f20" stroke-width="1.5" stroke-linecap="butt"/>
<line x1="400.49" y1="134.21" x2="407.49" y2="134.21" stroke="#231f20" stroke-width="1.5" stroke-linecap="butt"/>
<line x1="423.15" y1="75.16" x2="423.15" y2="94.54" stroke="#231f20" stroke-width="1.5" stroke-linecap="butt"/>
<line x1="419.65" y1="75.16" x2="426.65" y2="75.16" stroke="#231f20" stroke-width="1.5" stroke-linecap="butt"/>
<line x1="419.65" y1="94.54" x2="426.65" y2="94.54" stroke="#231f20" stroke-width="1.5" stroke-linecap="butt"/>
<line x1="425.75" y1="72.43" x2="425.75" y2="81.52" stroke="#231f20" stroke-width="1.5" stroke-linecap="butt"/>
<line x1="422.25" y1="72.43" x2="429.25" y2="72.43" stroke="#231f20" stroke-width="1.5" stroke-linecap="butt"/>
<line x1="422.25" y1="81.52" x2="429.25" y2="81.52" stroke="#231f20" stroke-width="1.5" stroke-linecap="butt"/>
<line x1="427.76" y1="59.11" x2="427.76" y2="79.1" stroke="#231f20" stroke-width="1.5" stroke-linecap="butt"/>
<line x1="424.26" y1="59.11" x2="431.26" y2="59.11" stroke="#231f20" stroke-width="1.5" stroke-linecap="butt"/>
<line x1="424.26" y1="79.1" x2="431.26" y2="79.1" stroke="#231f20" stroke-width="1.5" stroke-linecap="butt"/>
<line x1="432.95" y1="61.84" x2="432.95" y2="81.82" stroke="#231f20" stroke-width="1.5" stroke-linecap="butt"/>
<line x1="429.45" y1="61.84" x2="436.45" y2="61.84" stroke="#231f20" stroke-width="1.5" stroke-linecap="butt"/>
<line x1="429.45" y1="81.82" x2="436.45" y2="81.82" stroke="#231f20" stroke-width="1.5" stroke-linecap="butt"/>
<line x1="457.45" y1="37.92" x2="457.45" y2="56.08" stroke="#231f20" stroke-width="1.5" stroke-linecap="butt"/>
<line x1="453.95" y1="37.92" x2="460.95" y2="37.92" stroke="#231f20" stroke-width="1.5" stroke-linecap="butt"/>
<line x1="453.95" y1="56.08" x2="460.95" y2="56.08" stroke="#231f20" stroke-width="1.5" stroke-linecap="butt"/>
<line x1="458.6" y1="44.27" x2="458.6" y2="62.44" stroke="#231f20" stroke-width="1.5" stroke-linecap="butt"/>
<line x1="455.1" y1="44.27" x2="462.1" y2="44.27" stroke="#231f20" stroke-width="1.5" stroke-linecap="butt"/>
<line x1="455.1" y1="62.44" x2="462.1" y2="62.44" stroke="#231f20" stroke-width="1.5" stroke-linecap="butt"/>
<line x1="460.33" y1="49.42" x2="460.33" y2="67.59" stroke="#231f20" stroke-width="1.5" stroke-linecap="butt"/>
<line x1="456.83" y1="49.42" x2="463.83" y2="49.42" stroke="#231f20" stroke-width="1.5" stroke-linecap="butt"/>
<line x1="456.83" y1="67.59" x2="463.83" y2="67.59" stroke="#231f20" stroke-width="1.5" stroke-linecap="butt"/>
<line x1="461.77" y1="45.49" x2="461.77" y2="63.65" stroke="#231f20" stroke-width="1.5" stroke-linecap="butt"/>
<line x1="458.27" y1="45.49" x2="465.27" y2="45.49" stroke="#231f20" stroke-width="1.5" stroke-linecap="butt"/>
<line x1="458.27" y1="63.65" x2="465.27" y2="63.65" stroke="#231f20" stroke-width="1.5" stroke-linecap="butt"/>
<line x1="463.93" y1="38.22" x2="463.93" y2="56.39" stroke="#231f20" stroke-width="1.5" stroke-linecap="butt"/>
<line x1="460.43" y1="38.22" x2="467.43" y2="38.22" stroke="#231f20" stroke-width="1.5" stroke-linecap="butt"/>
<line x1="460.43" y1="56.39" x2="467.43" y2="56.39" stroke="#231f20" stroke-width="1.5" stroke-linecap="butt"/>
<line x1="469.26" y1="28.23" x2="469.26" y2="55.48" stroke="#231f20" stroke-width="1.5" stroke-linecap="butt"/>
<line x1="465.76" y1="28.23" x2="472.76" y2="28.23" stroke="#231f20" stroke-width="1.5" stroke-linecap="butt"/>
<line x1="465.76" y1="55.48" x2="472.76" y2="55.48" stroke="#231f20" stroke-width="1.5" stroke-linecap="butt"/>
<line x1="472" y1="33.37" x2="472" y2="51.54" stroke="#231f20" stroke-width="1.5" stroke-linecap="butt"/>
<line x1="468.5" y1="33.37" x2="475.5" y2="33.37" stroke="#231f20" stroke-width="1.5" stroke-linecap="butt"/>
<line x1="468.5" y1="51.54" x2="475.5" y2="51.54" stroke="#231f20" stroke-width="1.5" stroke-linecap="butt"/>
<line x1="489.73" y1="40.34" x2="489.73" y2="49.42" stroke="#231f20" stroke-width="1.5" stroke-linecap="butt"/>
<line x1="486.23" y1="40.34" x2="493.23" y2="40.34" stroke="#231f20" stroke-width="1.5" stroke-linecap="butt"/>
<line x1="486.23" y1="49.42" x2="493.23" y2="49.42" stroke="#231f20" stroke-width="1.5" stroke-linecap="butt"/>
<line x1="493.04" y1="36.4" x2="493.04" y2="49.72" stroke="#231f20" stroke-width="1.5" stroke-linecap="butt"/>
<line x1="489.54" y1="36.4" x2="496.54" y2="36.4" stroke="#231f20" stroke-width="1.5" stroke-linecap="butt"/>
<line x1="489.54" y1="49.72" x2="496.54" y2="49.72" stroke="#231f20" stroke-width="1.5" stroke-linecap="butt"/>
<line x1="502.26" y1="32.16" x2="502.26" y2="47.3" stroke="#231f20" stroke-width="1.5" stroke-linecap="butt"/>
<line x1="498.76" y1="32.16" x2="505.76" y2="32.16" stroke="#231f20" stroke-width="1.5" stroke-linecap="butt"/>
<line x1="498.76" y1="47.3" x2="505.76" y2="47.3" stroke="#231f20" stroke-width="1.5" stroke-linecap="butt"/>
<line x1="527.48" y1="51.54" x2="527.48" y2="84.85" stroke="#231f20" stroke-width="1.5" stroke-linecap="butt"/>
<line x1="523.98" y1="51.54" x2="530.98" y2="51.54" stroke="#231f20" stroke-width="1.5" stroke-linecap="butt"/>
<line x1="523.98" y1="84.85" x2="530.98" y2="84.85" stroke="#231f20" stroke-width="1.5" stroke-linecap="butt"/>
<line x1="562.06" y1="109.38" x2="562.06" y2="136.63" stroke="#231f20" stroke-width="1.5" stroke-linecap="butt"/>
<line x1="558.56" y1="109.38" x2="565.56" y2="109.38" stroke="#231f20" stroke-width="1.5" stroke-linecap="butt"/>
<line x1="558.56" y1="136.63" x2="565.56" y2="136.63" stroke="#231f20" stroke-width="1.5" stroke-linecap="butt"/>
<polyline points="389,164.49 391.88,159.34 396.2,148.13 400.82,135.72 403.99,129.66 423.15,84.85 425.75,76.98 427.76,69.1 432.95,71.83 457.45,47 458.6,53.36 460.33,58.51 461.77,54.57 463.93,47.3 469.26,41.85 472,42.46 489.73,44.88 493.04,43.06 502.26,39.73 527.48,68.2 562.06,123 596.36,145.41" fill="none" stroke="#231f20" stroke-width="1.4" stroke-linejoin="round"/>
<polygon points="389,162.16 392.08,167.89 385.92,167.89" fill="none" stroke="#231f20" stroke-width="1.3" stroke-linejoin="miter"/>
<polygon points="391.88,161.25 394.96,166.98 388.8,166.98" fill="none" stroke="#231f20" stroke-width="1.3" stroke-linejoin="miter"/>
<polygon points="396.2,160.34 399.28,166.08 393.12,166.08" fill="none" stroke="#231f20" stroke-width="1.3" stroke-linejoin="miter"/>
<polygon points="400.53,160.95 403.61,166.68 397.45,166.68" fill="none" stroke="#231f20" stroke-width="1.3" stroke-linejoin="miter"/>
<polygon points="403.41,161.25 406.49,166.98 400.33,166.98" fill="none" stroke="#231f20" stroke-width="1.3" stroke-linejoin="miter"/>
<polygon points="423.58,160.34 426.66,166.08 420.5,166.08" fill="none" stroke="#231f20" stroke-width="1.3" stroke-linejoin="miter"/>
<polygon points="432.23,160.34 435.31,166.08 429.15,166.08" fill="none" stroke="#231f20" stroke-width="1.3" stroke-linejoin="miter"/>
<polygon points="458.17,161.86 461.25,167.59 455.09,167.59" fill="none" stroke="#231f20" stroke-width="1.3" stroke-linejoin="miter"/>
<polygon points="461.05,161.86 464.13,167.59 457.97,167.59" fill="none" stroke="#231f20" stroke-width="1.3" stroke-linejoin="miter"/>
<polygon points="463.93,161.86 467.01,167.59 460.85,167.59" fill="none" stroke="#231f20" stroke-width="1.3" stroke-linejoin="miter"/>
<polygon points="468.25,161.86 471.33,167.59 465.18,167.59" fill="none" stroke="#231f20" stroke-width="1.3" stroke-linejoin="miter"/>
<polygon points="472.58,161.86 475.66,167.59 469.5,167.59" fill="none" stroke="#231f20" stroke-width="1.3" stroke-linejoin="miter"/>
<polygon points="492.75,161.86 495.83,167.59 489.67,167.59" fill="none" stroke="#231f20" stroke-width="1.3" stroke-linejoin="miter"/>
<polygon points="497.07,161.86 500.15,167.59 494,167.59" fill="none" stroke="#231f20" stroke-width="1.3" stroke-linejoin="miter"/>
<polygon points="501.4,161.86 504.48,167.59 498.32,167.59" fill="none" stroke="#231f20" stroke-width="1.3" stroke-linejoin="miter"/>
<polygon points="527.34,160.95 530.42,166.68 524.26,166.68" fill="none" stroke="#231f20" stroke-width="1.3" stroke-linejoin="miter"/>
<polygon points="561.92,161.86 565,167.59 558.84,167.59" fill="none" stroke="#231f20" stroke-width="1.3" stroke-linejoin="miter"/>
<polygon points="596.5,162.77 599.58,168.5 593.42,168.5" fill="none" stroke="#231f20" stroke-width="1.3" stroke-linejoin="miter"/>
<circle cx="389" cy="165.39" r="2.8" fill="none" stroke="#231f20" stroke-width="1.3"/>
<circle cx="391.88" cy="163.58" r="2.8" fill="none" stroke="#231f20" stroke-width="1.3"/>
<circle cx="396.2" cy="162.97" r="2.8" fill="none" stroke="#231f20" stroke-width="1.3"/>
<circle cx="400.53" cy="162.37" r="2.8" fill="none" stroke="#231f20" stroke-width="1.3"/>
<circle cx="403.41" cy="162.97" r="2.8" fill="none" stroke="#231f20" stroke-width="1.3"/>
<circle cx="423.58" cy="159.94" r="2.8" fill="none" stroke="#231f20" stroke-width="1.3"/>
<circle cx="427.76" cy="155.4" r="2.8" fill="none" stroke="#231f20" stroke-width="1.3"/>
<circle cx="432.95" cy="151.47" r="2.8" fill="none" stroke="#231f20" stroke-width="1.3"/>
<circle cx="456.01" cy="151.47" r="2.8" fill="none" stroke="#231f20" stroke-width="1.3"/>
<circle cx="458.89" cy="152.37" r="2.8" fill="none" stroke="#231f20" stroke-width="1.3"/>
<circle cx="460.76" cy="149.35" r="2.8" fill="none" stroke="#231f20" stroke-width="1.3"/>
<circle cx="463.21" cy="144.8" r="2.8" fill="none" stroke="#231f20" stroke-width="1.3"/>
<circle cx="467.25" cy="136.02" r="2.8" fill="none" stroke="#231f20" stroke-width="1.3"/>
<circle cx="472.58" cy="145.41" r="2.8" fill="none" stroke="#231f20" stroke-width="1.3"/>
<circle cx="493.62" cy="151.16" r="2.8" fill="none" stroke="#231f20" stroke-width="1.3"/>
<circle cx="497.65" cy="142.08" r="2.8" fill="none" stroke="#231f20" stroke-width="1.3"/>
<circle cx="501.54" cy="144.8" r="2.8" fill="none" stroke="#231f20" stroke-width="1.3"/>
<circle cx="525.17" cy="165.39" r="2.8" fill="none" stroke="#231f20" stroke-width="1.3"/>
<circle cx="561.92" cy="165.7" r="2.8" fill="none" stroke="#231f20" stroke-width="1.3"/>
<circle cx="596.5" cy="166" r="2.8" fill="none" stroke="#231f20" stroke-width="1.3"/>
<rect x="386.2" y="162.59" width="5.6" height="5.6" fill="none" stroke="#231f20" stroke-width="1.3"/>
<rect x="389.08" y="160.78" width="5.6" height="5.6" fill="none" stroke="#231f20" stroke-width="1.3"/>
<rect x="393.4" y="157.75" width="5.6" height="5.6" fill="none" stroke="#231f20" stroke-width="1.3"/>
<rect x="397.73" y="154.72" width="5.6" height="5.6" fill="none" stroke="#231f20" stroke-width="1.3"/>
<rect x="400.61" y="154.12" width="5.6" height="5.6" fill="none" stroke="#231f20" stroke-width="1.3"/>
<rect x="403.2" y="152.6" width="5.6" height="5.6" fill="none" stroke="#231f20" stroke-width="1.3"/>
<rect x="420.21" y="135.34" width="5.6" height="5.6" fill="none" stroke="#231f20" stroke-width="1.3"/>
<rect x="421.07" y="132.92" width="5.6" height="5.6" fill="none" stroke="#231f20" stroke-width="1.3"/>
<rect x="421.94" y="130.8" width="5.6" height="5.6" fill="none" stroke="#231f20" stroke-width="1.3"/>
<rect x="425.54" y="115.05" width="5.6" height="5.6" fill="none" stroke="#231f20" stroke-width="1.3"/>
<rect x="430.15" y="108.39" width="5.6" height="5.6" fill="none" stroke="#231f20" stroke-width="1.3"/>
<rect x="453.21" y="90.53" width="5.6" height="5.6" fill="none" stroke="#231f20" stroke-width="1.3"/>
<rect x="455.37" y="85.99" width="5.6" height="5.6" fill="none" stroke="#231f20" stroke-width="1.3"/>
<rect x="457.53" y="79.93" width="5.6" height="5.6" fill="none" stroke="#231f20" stroke-width="1.3"/>
<rect x="459.69" y="75.99" width="5.6" height="5.6" fill="none" stroke="#231f20" stroke-width="1.3"/>
<rect x="462.57" y="72.36" width="5.6" height="5.6" fill="none" stroke="#231f20" stroke-width="1.3"/>
<rect x="466.9" y="70.85" width="5.6" height="5.6" fill="none" stroke="#231f20" stroke-width="1.3"/>
<rect x="470.5" y="72.97" width="5.6" height="5.6" fill="none" stroke="#231f20" stroke-width="1.3"/>
<rect x="488.8" y="68.12" width="5.6" height="5.6" fill="none" stroke="#231f20" stroke-width="1.3"/>
<rect x="494.13" y="75.39" width="5.6" height="5.6" fill="none" stroke="#231f20" stroke-width="1.3"/>
<rect x="499.46" y="74.48" width="5.6" height="5.6" fill="none" stroke="#231f20" stroke-width="1.3"/>
<rect x="524.97" y="143.22" width="5.6" height="5.6" fill="none" stroke="#231f20" stroke-width="1.3"/>
<rect x="559.12" y="158.66" width="5.6" height="5.6" fill="none" stroke="#231f20" stroke-width="1.3"/>
<rect x="593.7" y="163.2" width="5.6" height="5.6" fill="none" stroke="#231f20" stroke-width="1.3"/>
<polygon points="389,160.9 392.58,164.49 389,168.07 385.42,164.49" fill="none" stroke="#231f20" stroke-width="1.3"/>
<polygon points="391.88,155.75 395.47,159.34 391.88,162.92 388.3,159.34" fill="none" stroke="#231f20" stroke-width="1.3"/>
<polygon points="396.2,144.55 399.79,148.13 396.2,151.72 392.62,148.13" fill="none" stroke="#231f20" stroke-width="1.3"/>
<polygon points="400.82,132.14 404.4,135.72 400.82,139.3 397.23,135.72" fill="none" stroke="#231f20" stroke-width="1.3"/>
<polygon points="403.99,126.08 407.57,129.66 403.99,133.25 400.4,129.66" fill="none" stroke="#231f20" stroke-width="1.3"/>
<polygon points="423.15,81.27 426.74,84.85 423.15,88.43 419.57,84.85" fill="none" stroke="#231f20" stroke-width="1.3"/>
<polygon points="425.75,73.39 429.33,76.98 425.75,80.56 422.16,76.98" fill="none" stroke="#231f20" stroke-width="1.3"/>
<polygon points="427.76,65.52 431.35,69.1 427.76,72.69 424.18,69.1" fill="none" stroke="#231f20" stroke-width="1.3"/>
<polygon points="432.95,68.25 436.53,71.83 432.95,75.41 429.37,71.83" fill="none" stroke="#231f20" stroke-width="1.3"/>
<polygon points="457.45,43.42 461.03,47 457.45,50.58 453.86,47" fill="none" stroke="#231f20" stroke-width="1.3"/>
<polygon points="458.6,49.77 462.18,53.36 458.6,56.94 455.02,53.36" fill="none" stroke="#231f20" stroke-width="1.3"/>
<polygon points="460.33,54.92 463.91,58.51 460.33,62.09 456.75,58.51" fill="none" stroke="#231f20" stroke-width="1.3"/>
<polygon points="461.77,50.99 465.35,54.57 461.77,58.15 458.19,54.57" fill="none" stroke="#231f20" stroke-width="1.3"/>
<polygon points="463.93,43.72 467.52,47.3 463.93,50.89 460.35,47.3" fill="none" stroke="#231f20" stroke-width="1.3"/>
<polygon points="469.26,38.27 472.85,41.85 469.26,45.44 465.68,41.85" fill="none" stroke="#231f20" stroke-width="1.3"/>
<polygon points="472,38.87 475.59,42.46 472,46.04 468.42,42.46" fill="none" stroke="#231f20" stroke-width="1.3"/>
<polygon points="489.73,41.3 493.31,44.88 489.73,48.46 486.14,44.88" fill="none" stroke="#231f20" stroke-width="1.3"/>
<polygon points="493.04,39.48 496.62,43.06 493.04,46.65 489.46,43.06" fill="none" stroke="#231f20" stroke-width="1.3"/>
<polygon points="502.26,36.15 505.85,39.73 502.26,43.32 498.68,39.73" fill="none" stroke="#231f20" stroke-width="1.3"/>
<polygon points="527.48,64.61 531.06,68.2 527.48,71.78 523.9,68.2" fill="none" stroke="#231f20" stroke-width="1.3"/>
<polygon points="562.06,119.42 565.65,123 562.06,126.59 558.48,123" fill="none" stroke="#231f20" stroke-width="1.3"/>
<polygon points="596.36,141.83 599.94,145.41 596.36,148.99 592.78,145.41" fill="none" stroke="#231f20" stroke-width="1.3"/>
<polygon points="384.8,157 386.5,153.8 388.5,151.5 392,149.5 395.5,149.5 399,151 401,153 407.3,153.3 407.3,169.2 384.8,169.2" fill="#231f20"/>
<polygon points="455.5,37.2 461.5,37.2 461.5,38.5 464.5,38.5 464.5,60 465,62 465,98 463,101.5 463.5,102.5 463.5,104.8 455,104.8 455,102.5 458,101.5 458,99 455.4,99 455.4,88 458,86 458,72 456.5,68 457.5,64 455.8,61 457.5,57 455.8,53 457.5,49 455.8,45 457.5,41 457.5,38.5 455.5,38.5" fill="#231f20"/>
<polygon points="454.5,146 457,141.5 462,140.2 466,141 467.4,146 465,152 462,157.3 456,157.3 454.5,153" fill="#231f20"/>
<circle cx="493.62" cy="151.16" r="2.6" fill="#231f20"/>
<polygon points="421.5,160.5 424,158.3 428,158.5 429.2,162 428.5,166.4 421.5,166.4" fill="#231f20"/>
<polygon points="455.3,166 457,163.5 474.1,163.5 474.1,169.3 455.3,169.3" fill="#231f20"/>
<polygon points="489.4,166 491,163 503.4,163 503.4,169.3 489.4,169.3" fill="#231f20"/>
<polygon points="592.9,162.5 600,162.5 600,169.4 592.9,169.4" fill="#231f20"/>
<line x1="552.8" y1="24.7" x2="569.9" y2="24.7" stroke="#231f20" stroke-width="1.5" stroke-linecap="butt"/>
<polygon points="561.3,21.7 564.16,27.02 558.44,27.02" fill="none" stroke="#231f20" stroke-width="1.25" stroke-linejoin="miter"/>
<text x="576.3" y="29.6" text-anchor="start" font-size="13.6" font-weight="normal" fill="#231f20">THT</text>
<line x1="552.8" y1="42.15" x2="569.9" y2="42.15" stroke="#231f20" stroke-width="1.5" stroke-linecap="butt"/>
<circle cx="561.3" cy="42.15" r="2.6" fill="none" stroke="#231f20" stroke-width="1.25"/>
<text x="576.3" y="47.05" text-anchor="start" font-size="13.6" font-weight="normal" fill="#231f20">THT-1-oxide</text>
<line x1="552.8" y1="59.6" x2="569.9" y2="59.6" stroke="#231f20" stroke-width="1.5" stroke-linecap="butt"/>
<polygon points="561.3,56.27 564.63,59.6 561.3,62.93 557.97,59.6" fill="none" stroke="#231f20" stroke-width="1.25"/>
<text x="576.3" y="64.5" text-anchor="start" font-size="13.6" font-weight="normal" fill="#231f20">Sulfolane</text>
<line x1="552.8" y1="77.05" x2="569.9" y2="77.05" stroke="#231f20" stroke-width="1.5" stroke-linecap="butt"/>
<rect x="558.7" y="74.45" width="5.2" height="5.2" fill="none" stroke="#231f20" stroke-width="1.25"/>
<text x="576.3" y="81.95" text-anchor="start" font-size="13.6" font-weight="normal" fill="#231f20">3-OH sulfolane</text>
<text x="-1.5" y="237.5" text-anchor="start" font-size="20" font-weight="bold" fill="#231f20">c</text>
<line x1="64.6" y1="238.7" x2="64.6" y2="384.8" stroke="#231f20" stroke-width="1.6" stroke-linecap="butt"/>
<line x1="60" y1="380.4" x2="64.6" y2="380.4" stroke="#231f20" stroke-width="1.6" stroke-linecap="butt"/>
<text x="55" y="385.1" text-anchor="end" font-size="14" font-weight="normal" fill="#231f20">0</text>
<line x1="60" y1="345.17" x2="64.6" y2="345.17" stroke="#231f20" stroke-width="1.6" stroke-linecap="butt"/>
<text x="55" y="349.87" text-anchor="end" font-size="14" font-weight="normal" fill="#231f20">500</text>
<line x1="60" y1="309.95" x2="64.6" y2="309.95" stroke="#231f20" stroke-width="1.6" stroke-linecap="butt"/>
<text x="55" y="314.65" text-anchor="end" font-size="14" font-weight="normal" fill="#231f20">1000</text>
<line x1="60" y1="274.72" x2="64.6" y2="274.72" stroke="#231f20" stroke-width="1.6" stroke-linecap="butt"/>
<text x="55" y="279.42" text-anchor="end" font-size="14" font-weight="normal" fill="#231f20">1500</text>
<line x1="60" y1="239.5" x2="64.6" y2="239.5" stroke="#231f20" stroke-width="1.6" stroke-linecap="butt"/>
<text x="55" y="244.2" text-anchor="end" font-size="14" font-weight="normal" fill="#231f20">2000</text>
<line x1="60" y1="380.4" x2="281" y2="380.4" stroke="#231f20" stroke-width="1.6" stroke-linecap="butt"/>
<line x1="64.6" y1="380.4" x2="64.6" y2="384.8" stroke="#231f20" stroke-width="1.6" stroke-linecap="butt"/>
<text x="64.6" y="400.7" text-anchor="middle" font-size="14" font-weight="normal" fill="#231f20">0</text>
<line x1="107.76" y1="380.4" x2="107.76" y2="384.8" stroke="#231f20" stroke-width="1.6" stroke-linecap="butt"/>
<text x="107.76" y="400.7" text-anchor="middle" font-size="14" font-weight="normal" fill="#231f20">40</text>
<line x1="150.92" y1="380.4" x2="150.92" y2="384.8" stroke="#231f20" stroke-width="1.6" stroke-linecap="butt"/>
<text x="150.92" y="400.7" text-anchor="middle" font-size="14" font-weight="normal" fill="#231f20">80</text>
<line x1="194.08" y1="380.4" x2="194.08" y2="384.8" stroke="#231f20" stroke-width="1.6" stroke-linecap="butt"/>
<text x="194.08" y="400.7" text-anchor="middle" font-size="14" font-weight="normal" fill="#231f20">120</text>
<line x1="237.24" y1="380.4" x2="237.24" y2="384.8" stroke="#231f20" stroke-width="1.6" stroke-linecap="butt"/>
<text x="237.24" y="400.7" text-anchor="middle" font-size="14" font-weight="normal" fill="#231f20">160</text>
<line x1="280.4" y1="380.4" x2="280.4" y2="384.8" stroke="#231f20" stroke-width="1.6" stroke-linecap="butt"/>
<text x="280.4" y="400.7" text-anchor="middle" font-size="14" font-weight="normal" fill="#231f20">200</text>
<text x="172.5" y="420" text-anchor="middle" font-size="14" font-weight="normal" fill="#231f20">Hours</text>
<text x="11.4" y="309.1" text-anchor="middle" font-size="13.7" font-weight="normal" fill="#231f20" transform="rotate(-90 11.4 309.1)">Concentration (ng/mL)</text>
<polyline points="70.75,314.59 77.44,328.7 84.13,277.58 86.29,275.1 103.23,327.92 109.92,304.1 135.6,320.83 161.71,313.31 187.82,378.33 213.83,379.32 239.51,377.12 265.29,380.1" fill="none" stroke="#231f20" stroke-width="1.5" stroke-linejoin="round"/>
<circle cx="70.75" cy="314.59" r="3" fill="#231f20"/>
<circle cx="77.44" cy="328.7" r="3" fill="#231f20"/>
<circle cx="84.13" cy="277.58" r="3" fill="#231f20"/>
<circle cx="86.29" cy="275.1" r="3" fill="#231f20"/>
<circle cx="103.23" cy="327.92" r="3" fill="#231f20"/>
<circle cx="109.92" cy="304.1" r="3" fill="#231f20"/>
<circle cx="135.6" cy="320.83" r="3" fill="#231f20"/>
<circle cx="161.71" cy="313.31" r="3" fill="#231f20"/>
<circle cx="187.82" cy="378.33" r="3" fill="#231f20"/>
<circle cx="213.83" cy="379.32" r="3" fill="#231f20"/>
<circle cx="239.51" cy="377.12" r="3" fill="#231f20"/>
<circle cx="265.29" cy="380.1" r="3" fill="#231f20"/>
<line x1="204.2" y1="259.9" x2="219.8" y2="259.9" stroke="#231f20" stroke-width="1.6" stroke-linecap="butt"/>
<circle cx="212.3" cy="259.9" r="3" fill="#231f20"/>
<text x="226" y="264.3" text-anchor="start" font-size="13.8" font-weight="normal" fill="#231f20">Busulphan</text>
<text x="328.2" y="238" text-anchor="start" font-size="20" font-weight="bold" fill="#231f20">d</text>
<line x1="408.1" y1="238.1" x2="408.1" y2="304.6" stroke="#231f20" stroke-width="1.6" stroke-linecap="butt"/>
<line x1="405.3" y1="304" x2="411.3" y2="304" stroke="#231f20" stroke-width="1.6" stroke-linecap="butt"/>
<line x1="403.6" y1="282.43" x2="408.1" y2="282.43" stroke="#231f20" stroke-width="1.6" stroke-linecap="butt"/>
<text x="398" y="287.12" text-anchor="end" font-size="14" font-weight="normal" fill="#231f20">50000</text>
<line x1="403.6" y1="260.65" x2="408.1" y2="260.65" stroke="#231f20" stroke-width="1.6" stroke-linecap="butt"/>
<text x="398" y="265.35" text-anchor="end" font-size="14" font-weight="normal" fill="#231f20">100000</text>
<line x1="403.6" y1="238.88" x2="408.1" y2="238.88" stroke="#231f20" stroke-width="1.6" stroke-linecap="butt"/>
<text x="398" y="243.57" text-anchor="end" font-size="14" font-weight="normal" fill="#231f20">150000</text>
<line x1="408.1" y1="314.1" x2="408.1" y2="384.6" stroke="#231f20" stroke-width="1.6" stroke-linecap="butt"/>
<line x1="403.6" y1="314.9" x2="411.2" y2="314.9" stroke="#231f20" stroke-width="1.6" stroke-linecap="butt"/>
<line x1="403.6" y1="380.2" x2="408.1" y2="380.2" stroke="#231f20" stroke-width="1.6" stroke-linecap="butt"/>
<text x="398" y="384.9" text-anchor="end" font-size="14" font-weight="normal" fill="#231f20">0</text>
<line x1="403.6" y1="358.43" x2="408.1" y2="358.43" stroke="#231f20" stroke-width="1.6" stroke-linecap="butt"/>
<text x="398" y="363.13" text-anchor="end" font-size="14" font-weight="normal" fill="#231f20">200</text>
<line x1="403.6" y1="336.67" x2="408.1" y2="336.67" stroke="#231f20" stroke-width="1.6" stroke-linecap="butt"/>
<text x="398" y="341.37" text-anchor="end" font-size="14" font-weight="normal" fill="#231f20">400</text>
<line x1="403.6" y1="314.9" x2="408.1" y2="314.9" stroke="#231f20" stroke-width="1.6" stroke-linecap="butt"/>
<text x="398" y="319.6" text-anchor="end" font-size="14" font-weight="normal" fill="#231f20">600</text>
<line x1="403.6" y1="380.2" x2="621" y2="380.2" stroke="#231f20" stroke-width="1.6" stroke-linecap="butt"/>
<line x1="408" y1="380.2" x2="408" y2="385" stroke="#231f20" stroke-width="1.6" stroke-linecap="butt"/>
<text x="408" y="400.7" text-anchor="middle" font-size="14" font-weight="normal" fill="#231f20">0</text>
<line x1="450.48" y1="380.2" x2="450.48" y2="385" stroke="#231f20" stroke-width="1.6" stroke-linecap="butt"/>
<text x="450.48" y="400.7" text-anchor="middle" font-size="14" font-weight="normal" fill="#231f20">40</text>
<line x1="492.96" y1="380.2" x2="492.96" y2="385" stroke="#231f20" stroke-width="1.6" stroke-linecap="butt"/>
<text x="492.96" y="400.7" text-anchor="middle" font-size="14" font-weight="normal" fill="#231f20">80</text>
<line x1="535.44" y1="380.2" x2="535.44" y2="385" stroke="#231f20" stroke-width="1.6" stroke-linecap="butt"/>
<text x="535.44" y="400.7" text-anchor="middle" font-size="14" font-weight="normal" fill="#231f20">120</text>
<line x1="577.92" y1="380.2" x2="577.92" y2="385" stroke="#231f20" stroke-width="1.6" stroke-linecap="butt"/>
<text x="577.92" y="400.7" text-anchor="middle" font-size="14" font-weight="normal" fill="#231f20">160</text>
<line x1="620.4" y1="380.2" x2="620.4" y2="385" stroke="#231f20" stroke-width="1.6" stroke-linecap="butt"/>
<text x="620.4" y="400.7" text-anchor="middle" font-size="14" font-weight="normal" fill="#231f20">200</text>
<text x="514.5" y="420" text-anchor="middle" font-size="14" font-weight="normal" fill="#231f20">Hours</text>
<text x="340" y="308.5" text-anchor="middle" font-size="13.7" font-weight="normal" fill="#231f20" transform="rotate(-90 340 308.5)">Concentration (ng/mL)</text>
<rect x="529.07" y="377" width="25.91" height="2.4" fill="#a8a8a8"/>
<polyline points="414.16,376.15 420.85,375.49 427.22,374.94 429.88,375.49 446.23,375.49 452.6,376.15 478.2,375.49 503.26,373.41 529.07,376.59 554.98,376.59 579.94,375.38 605.53,377.46" fill="none" stroke="#231f20" stroke-width="1.4" stroke-linejoin="round"/>
<polyline points="414.16,378.78 420.32,365.31 427.22,349.21 429.13,352.17 446.23,349.21 452.6,364.98 478.2,364.54 503.26,360.49 529.07,379.1 554.98,379.1 580.47,331.25 605.53,379.1" fill="none" stroke="#231f20" stroke-width="1.4" stroke-linejoin="round"/>
<polyline points="413.73,302.6 420.32,302.6 429.45,303.2 445.81,301.9 452.6,298.4 478.2,301.9 503.9,303.1 529.28,303.9 554.87,303.9 580.47,326 606.06,316.36" fill="none" stroke="#231f20" stroke-width="1.4" stroke-linejoin="round"/>
<polyline points="414.48,293.1 419.89,298.6 426.8,279.2 429.13,298.6 446.55,270.4 452.6,257.2 478.41,288.8 503.9,291.3 529.71,301.3 554.98,367.28 580.26,366.18 606.06,365.2" fill="none" stroke="#231f20" stroke-width="1.4" stroke-linejoin="round"/>
<polygon points="414.16,372.68 417.46,378.83 410.86,378.83" fill="none" stroke="#231f20" stroke-width="1.4" stroke-linejoin="miter"/>
<polygon points="420.85,372.03 424.15,378.17 417.55,378.17" fill="none" stroke="#231f20" stroke-width="1.4" stroke-linejoin="miter"/>
<polygon points="427.22,371.48 430.52,377.62 423.92,377.62" fill="none" stroke="#231f20" stroke-width="1.4" stroke-linejoin="miter"/>
<polygon points="429.88,372.03 433.18,378.17 426.58,378.17" fill="none" stroke="#231f20" stroke-width="1.4" stroke-linejoin="miter"/>
<polygon points="446.23,372.03 449.53,378.17 442.93,378.17" fill="none" stroke="#231f20" stroke-width="1.4" stroke-linejoin="miter"/>
<polygon points="452.6,372.68 455.9,378.83 449.3,378.83" fill="none" stroke="#231f20" stroke-width="1.4" stroke-linejoin="miter"/>
<polygon points="478.2,372.03 481.5,378.17 474.9,378.17" fill="none" stroke="#231f20" stroke-width="1.4" stroke-linejoin="miter"/>
<polygon points="503.26,369.95 506.56,376.09 499.96,376.09" fill="none" stroke="#231f20" stroke-width="1.4" stroke-linejoin="miter"/>
<polygon points="529.07,373.12 532.37,379.26 525.77,379.26" fill="none" stroke="#231f20" stroke-width="1.4" stroke-linejoin="miter"/>
<polygon points="554.98,373.12 558.28,379.26 551.68,379.26" fill="none" stroke="#231f20" stroke-width="1.4" stroke-linejoin="miter"/>
<polygon points="579.94,371.92 583.24,378.06 576.64,378.06" fill="none" stroke="#231f20" stroke-width="1.4" stroke-linejoin="miter"/>
<polygon points="605.53,374 608.83,380.14 602.23,380.14" fill="none" stroke="#231f20" stroke-width="1.4" stroke-linejoin="miter"/>
<polygon points="414.16,375.26 417.68,378.78 414.16,382.3 410.64,378.78" fill="none" stroke="#231f20" stroke-width="1.3"/>
<polygon points="420.32,361.79 423.84,365.31 420.32,368.83 416.8,365.31" fill="none" stroke="#231f20" stroke-width="1.3"/>
<polygon points="427.22,345.69 430.74,349.21 427.22,352.73 423.7,349.21" fill="none" stroke="#231f20" stroke-width="1.3"/>
<polygon points="429.13,348.65 432.65,352.17 429.13,355.69 425.61,352.17" fill="none" stroke="#231f20" stroke-width="1.3"/>
<polygon points="446.23,345.69 449.75,349.21 446.23,352.73 442.71,349.21" fill="none" stroke="#231f20" stroke-width="1.3"/>
<polygon points="452.6,361.46 456.12,364.98 452.6,368.5 449.08,364.98" fill="none" stroke="#231f20" stroke-width="1.3"/>
<polygon points="478.2,361.02 481.72,364.54 478.2,368.06 474.68,364.54" fill="none" stroke="#231f20" stroke-width="1.3"/>
<polygon points="503.26,356.97 506.78,360.49 503.26,364.01 499.74,360.49" fill="none" stroke="#231f20" stroke-width="1.3"/>
<polygon points="529.07,375.58 532.59,379.1 529.07,382.62 525.55,379.1" fill="none" stroke="#231f20" stroke-width="1.3"/>
<polygon points="554.98,375.58 558.5,379.1 554.98,382.62 551.46,379.1" fill="none" stroke="#231f20" stroke-width="1.3"/>
<polygon points="580.47,327.73 583.99,331.25 580.47,334.77 576.95,331.25" fill="none" stroke="#231f20" stroke-width="1.3"/>
<polygon points="605.53,375.58 609.05,379.1 605.53,382.62 602.01,379.1" fill="none" stroke="#231f20" stroke-width="1.3"/>
<circle cx="413.73" cy="302.6" r="2.75" fill="none" stroke="#231f20" stroke-width="1.3"/>
<circle cx="420.32" cy="302.6" r="2.75" fill="none" stroke="#231f20" stroke-width="1.3"/>
<circle cx="429.45" cy="303.2" r="2.75" fill="none" stroke="#231f20" stroke-width="1.3"/>
<circle cx="445.81" cy="301.9" r="2.75" fill="none" stroke="#231f20" stroke-width="1.3"/>
<circle cx="452.6" cy="298.4" r="2.75" fill="none" stroke="#231f20" stroke-width="1.3"/>
<circle cx="478.2" cy="301.9" r="2.75" fill="none" stroke="#231f20" stroke-width="1.3"/>
<circle cx="503.9" cy="303.1" r="2.75" fill="none" stroke="#231f20" stroke-width="1.3"/>
<circle cx="529.28" cy="303.9" r="2.75" fill="none" stroke="#231f20" stroke-width="1.3"/>
<circle cx="554.87" cy="303.9" r="2.75" fill="none" stroke="#231f20" stroke-width="1.3"/>
<circle cx="580.47" cy="326" r="2.75" fill="none" stroke="#231f20" stroke-width="1.3"/>
<circle cx="606.06" cy="316.36" r="2.75" fill="none" stroke="#231f20" stroke-width="1.3"/>
<rect x="411.73" y="290.35" width="5.5" height="5.5" fill="none" stroke="#231f20" stroke-width="1.3"/>
<rect x="417.14" y="295.85" width="5.5" height="5.5" fill="none" stroke="#231f20" stroke-width="1.3"/>
<rect x="424.05" y="276.45" width="5.5" height="5.5" fill="none" stroke="#231f20" stroke-width="1.3"/>
<rect x="426.38" y="295.85" width="5.5" height="5.5" fill="none" stroke="#231f20" stroke-width="1.3"/>
<rect x="443.8" y="267.65" width="5.5" height="5.5" fill="none" stroke="#231f20" stroke-width="1.3"/>
<rect x="449.85" y="254.45" width="5.5" height="5.5" fill="none" stroke="#231f20" stroke-width="1.3"/>
<rect x="475.66" y="286.05" width="5.5" height="5.5" fill="none" stroke="#231f20" stroke-width="1.3"/>
<rect x="501.15" y="288.55" width="5.5" height="5.5" fill="none" stroke="#231f20" stroke-width="1.3"/>
<rect x="526.96" y="298.55" width="5.5" height="5.5" fill="none" stroke="#231f20" stroke-width="1.3"/>
<rect x="552.23" y="364.53" width="5.5" height="5.5" fill="none" stroke="#231f20" stroke-width="1.3"/>
<rect x="577.51" y="363.43" width="5.5" height="5.5" fill="none" stroke="#231f20" stroke-width="1.3"/>
<rect x="603.31" y="362.45" width="5.5" height="5.5" fill="none" stroke="#231f20" stroke-width="1.3"/>
<line x1="573.2" y1="248.7" x2="588.3" y2="248.7" stroke="#231f20" stroke-width="1.5" stroke-linecap="butt"/>
<polygon points="580.7,245.7 583.56,251.02 577.84,251.02" fill="none" stroke="#231f20" stroke-width="1.25" stroke-linejoin="miter"/>
<text x="594.8" y="253.6" text-anchor="start" font-size="13.6" font-weight="normal" fill="#231f20">THT</text>
<line x1="573.2" y1="264.9" x2="588.3" y2="264.9" stroke="#231f20" stroke-width="1.5" stroke-linecap="butt"/>
<circle cx="580.7" cy="264.9" r="2.6" fill="none" stroke="#231f20" stroke-width="1.25"/>
<text x="594.8" y="269.8" text-anchor="start" font-size="13.6" font-weight="normal" fill="#231f20">THT-1-oxide</text>
<line x1="573.2" y1="281.1" x2="588.3" y2="281.1" stroke="#231f20" stroke-width="1.5" stroke-linecap="butt"/>
<polygon points="580.7,277.77 584.03,281.1 580.7,284.43 577.37,281.1" fill="none" stroke="#231f20" stroke-width="1.25"/>
<text x="594.8" y="286" text-anchor="start" font-size="13.6" font-weight="normal" fill="#231f20">Sulfolane</text>
<line x1="573.2" y1="297.3" x2="588.3" y2="297.3" stroke="#231f20" stroke-width="1.5" stroke-linecap="butt"/>
<rect x="578.1" y="294.7" width="5.2" height="5.2" fill="none" stroke="#231f20" stroke-width="1.25"/>
<text x="594.8" y="302.2" text-anchor="start" font-size="13.6" font-weight="normal" fill="#231f20">3-OH sulfolane</text>
</svg>
</body></html>
